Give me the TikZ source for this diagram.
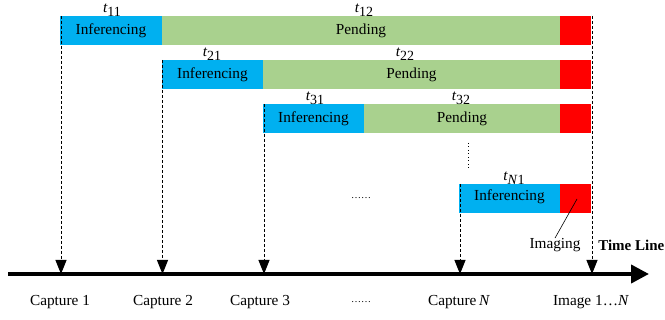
\documentclass[tikz,border=0pt]{standalone}
\usepackage{fontspec}
\setmainfont{Liberation Serif}
\usetikzlibrary{arrows.meta}
\definecolor{infblue}{HTML}{00B0F0}
\definecolor{pendgreen}{HTML}{A9D18E}
\definecolor{imgred}{HTML}{FF0000}
\tikzset{
  seg/.style={inner sep=0pt, outer sep=0pt, minimum height=29pt, font=\fontsize{15.3}{18}\selectfont},
  inf/.style={seg, fill=infblue},
  pend/.style={seg, fill=pendgreen},
  imgbox/.style={seg, fill=imgred, minimum width=31pt},
  lbl/.style={inner sep=0pt, font=\fontsize{15.3}{18}\selectfont},
  tlbl/.style={inner sep=0pt, font=\fontsize{15.3}{18}\selectfont},
  drop/.style={dashed, dash pattern=on 3pt off 2pt, line width=1pt, -{Triangle[width=11pt,length=14pt]}},
}
\newcommand{\tsub}[1]{{\itshape t}\raisebox{-4pt}{\fontsize{14}{16}\selectfont #1}}
\begin{document}
\begin{tikzpicture}[x=1pt,y=-1pt]
\useasboundingbox (0,0) rectangle (665,320);
% row 1
\node[inf, minimum width=102pt] (b1) at (111,30.5) {Inferencing};
\node[pend, minimum width=398pt] (g1) at (361,30.5) {Pending};
\node[imgbox] (r1) at (575.5,30.5) {};
% row 2
\node[inf, minimum width=101pt] (b2) at (212.5,74.5) {Inferencing};
\node[pend, minimum width=297pt] (g2) at (411.5,74.5) {Pending};
\node[imgbox] (r2) at (575.5,74.5) {};
% row 3
\node[inf, minimum width=101pt] (b3) at (313.5,118.5) {Inferencing};
\node[pend, minimum width=196pt] (g3) at (462,118.5) {Pending};
\node[imgbox] (r3) at (575.5,118.5) {};
% row N
\node[inf, minimum width=101pt, text depth=6pt] (b4) at (509.5,198.5) {Inferencing};
\node[imgbox] (r4) at (575.5,198.5) {};
% t labels
\node[tlbl] (t11) at (112,10) {\tsub{11}};
\node[tlbl] (t12) at (364,10) {\tsub{12}};
\node[tlbl] (t21) at (212,54) {\tsub{21}};
\node[tlbl] (t22) at (405,54) {\tsub{22}};
\node[tlbl] (t31) at (315,98) {\tsub{31}};
\node[tlbl] (t32) at (461,98) {\tsub{32}};
\node[tlbl] (tN1) at (514,178) {\tsub{\textit{N}1}};
% timeline
\coordinate (tl0) at (8,274);
\coordinate (tl1) at (649,274);
\draw[line width=4pt, -{Triangle[width=18pt,length=18pt]}] (tl0) -- (tl1);
\coordinate (c1) at (61,274);
\coordinate (c2) at (162.5,274);
\coordinate (c3) at (264,274);
\coordinate (c4) at (460,274);
\coordinate (c5) at (592,274);
\coordinate (s5) at (592,16);
\draw[drop] (b1.north west) ++(1,0) -- (c1);
\draw[drop] (b2.north west) ++(0.5,0) -- (c2);
\draw[drop] (b3.north west) ++(1,0) -- (c3);
\draw[drop] (b4.north west) ++(1,0) -- (c4);
\draw[drop] (s5) -- (c5);
% vertical dots
\coordinate (vd0) at (468,143);
\coordinate (vd1) at (468,170);
\draw[line width=1pt, dash pattern=on 1pt off 2.5pt] (vd0) -- (vd1);
% ellipses
\node[lbl, font=\fontsize{10}{12}\selectfont] (el1) at (361,198) {……};
\node[lbl, font=\fontsize{10}{12}\selectfont] (el2) at (361,302) {……};
% imaging
\node[lbl] (img) at (555,245) {Imaging};
\coordinate (ip) at (577,199);
\draw[line width=0.6pt] (ip) -- (img.north);
\node[lbl, anchor=east, font=\fontsize{15}{18}\selectfont\bfseries] (tline) at (664.5,245) {Time Line};
% bottom labels
\node[lbl] (cap1) at (60,302) {Capture 1};
\node[lbl] (cap2) at (163,302) {Capture 2};
\node[lbl] (cap3) at (260,302) {Capture 3};
\node[lbl] (capN) at (459,302) {Capture\,\textit{N}};
\node[lbl] (imN) at (591,302) {Image 1\ldots\textit{N}};
\end{tikzpicture}
\end{document}
